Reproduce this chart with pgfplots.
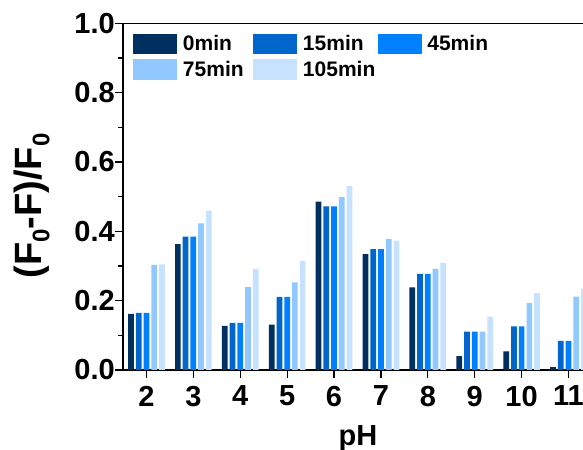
\documentclass[border=0pt]{standalone}
\usepackage{fontspec}
\setmainfont{Liberation Sans}
\usepackage{pgfplots}
\pgfplotsset{compat=1.18}
\usetikzlibrary{calc}
\definecolor{c0}{HTML}{003060}
\definecolor{c1}{HTML}{0066CC}
\definecolor{c2}{HTML}{0080FF}
\definecolor{c3}{HTML}{90C8FF}
\definecolor{c4}{HTML}{C6E2FF}
\pgfplotsset{mylegend/.style={legend image code/.code={\fill[##1] (0pt,-7.6pt) rectangle (33pt,7.6pt);}}}
\newcommand{\sub}{\raisebox{-6pt}{\fontsize{18}{18}\selectfont 0}}
\begin{document}
\begin{tikzpicture}
\begin{axis}[
  scale only axis, width=345.4pt, height=260pt,
  xmin=1.5, xmax=11.32, ymin=0, ymax=1,
  axis x line=box, axis y line=left,
  axis line style={-, line width=1.1pt, black},
  xtick={2,...,11}, ytick={0,0.2,...,1.0}, minor y tick num=1,
  xtick pos=bottom, ytick pos=left,
  tick align=outside, major tick length=6pt, minor tick length=3.75pt,
  every tick/.style={line width=0.9pt, black},
  ticklabel style={font=\fontsize{21.75}{22}\selectfont\bfseries, inner sep=0pt},
  /pgf/number format/assume math mode=true,
  xticklabel style={anchor=north, yshift=-5.8pt},
  yticklabel style={anchor=east, /pgf/number format/.cd, fixed, fixed zerofill, precision=1},
  xlabel={pH},
  x label style={at={(axis description cs:0.51,0)}, anchor=base, yshift=-56.25pt, inner sep=0pt, font=\fontsize{21.75}{22}\selectfont\bfseries},
  ylabel={(F\sub-F)/F\sub},
  y label style={at={(axis description cs:-0.159,0.473)}, anchor=south, inner sep=0pt, font=\fontsize{28.5}{28.5}\selectfont\bfseries},
  legend columns=3, legend cell align=left,
  legend style={at={(0,1)}, anchor=north west, xshift=7.7pt, yshift=-8pt, draw=none, fill=none,
    inner sep=0pt, outer sep=0pt, row sep=3.8pt, column sep=0pt,
    font=\fontsize{15.75}{16}\selectfont\bfseries, nodes={inner sep=0pt},
    /tikz/every odd column/.style={column sep=4.3pt}},
]
\coordinate (O) at (rel axis cs:0,0);
\addplot[ybar, bar width=0.122, bar shift=-0.33, fill=c0, draw=none, mylegend] table {
x y
2 0.162
3 0.363
4 0.127
5 0.131
6 0.486
7 0.334
8 0.238
9 0.040
10 0.054
11 0.008
};
\addlegendentry{\makebox[52.7pt][l]{0min}}
\addplot[ybar, bar width=0.122, bar shift=-0.165, fill=c1, draw=none, mylegend] table {
x y
2 0.165
3 0.385
4 0.136
5 0.211
6 0.472
7 0.349
8 0.277
9 0.111
10 0.126
11 0.084
};
\addlegendentry{\makebox[56pt][l]{15min}}
\addplot[ybar, bar width=0.122, bar shift=0, fill=c2, draw=none, mylegend] table {
x y
2 0.165
3 0.385
4 0.136
5 0.211
6 0.472
7 0.349
8 0.277
9 0.111
10 0.126
11 0.084
};
\addlegendentry{45min}
\addplot[ybar, bar width=0.122, bar shift=0.165, fill=c3, draw=none, mylegend] table {
x y
2 0.303
3 0.423
4 0.239
5 0.253
6 0.499
7 0.378
8 0.292
9 0.111
10 0.193
11 0.212
};
\addlegendentry{\makebox[52.7pt][l]{75min}}
\addplot[ybar, bar width=0.122, bar shift=0.33, fill=c4, draw=none, mylegend] table {
x y
2 0.305
3 0.460
4 0.292
5 0.315
6 0.531
7 0.373
8 0.309
9 0.154
10 0.222
11 0.234
};
\addlegendentry{\makebox[56pt][l]{105min}}
\end{axis}
\pgfresetboundingbox
\path ($(O)+(-92.25pt,-60pt)$) rectangle ($(O)+(345pt,277.5pt)$);
\end{tikzpicture}
\end{document}
